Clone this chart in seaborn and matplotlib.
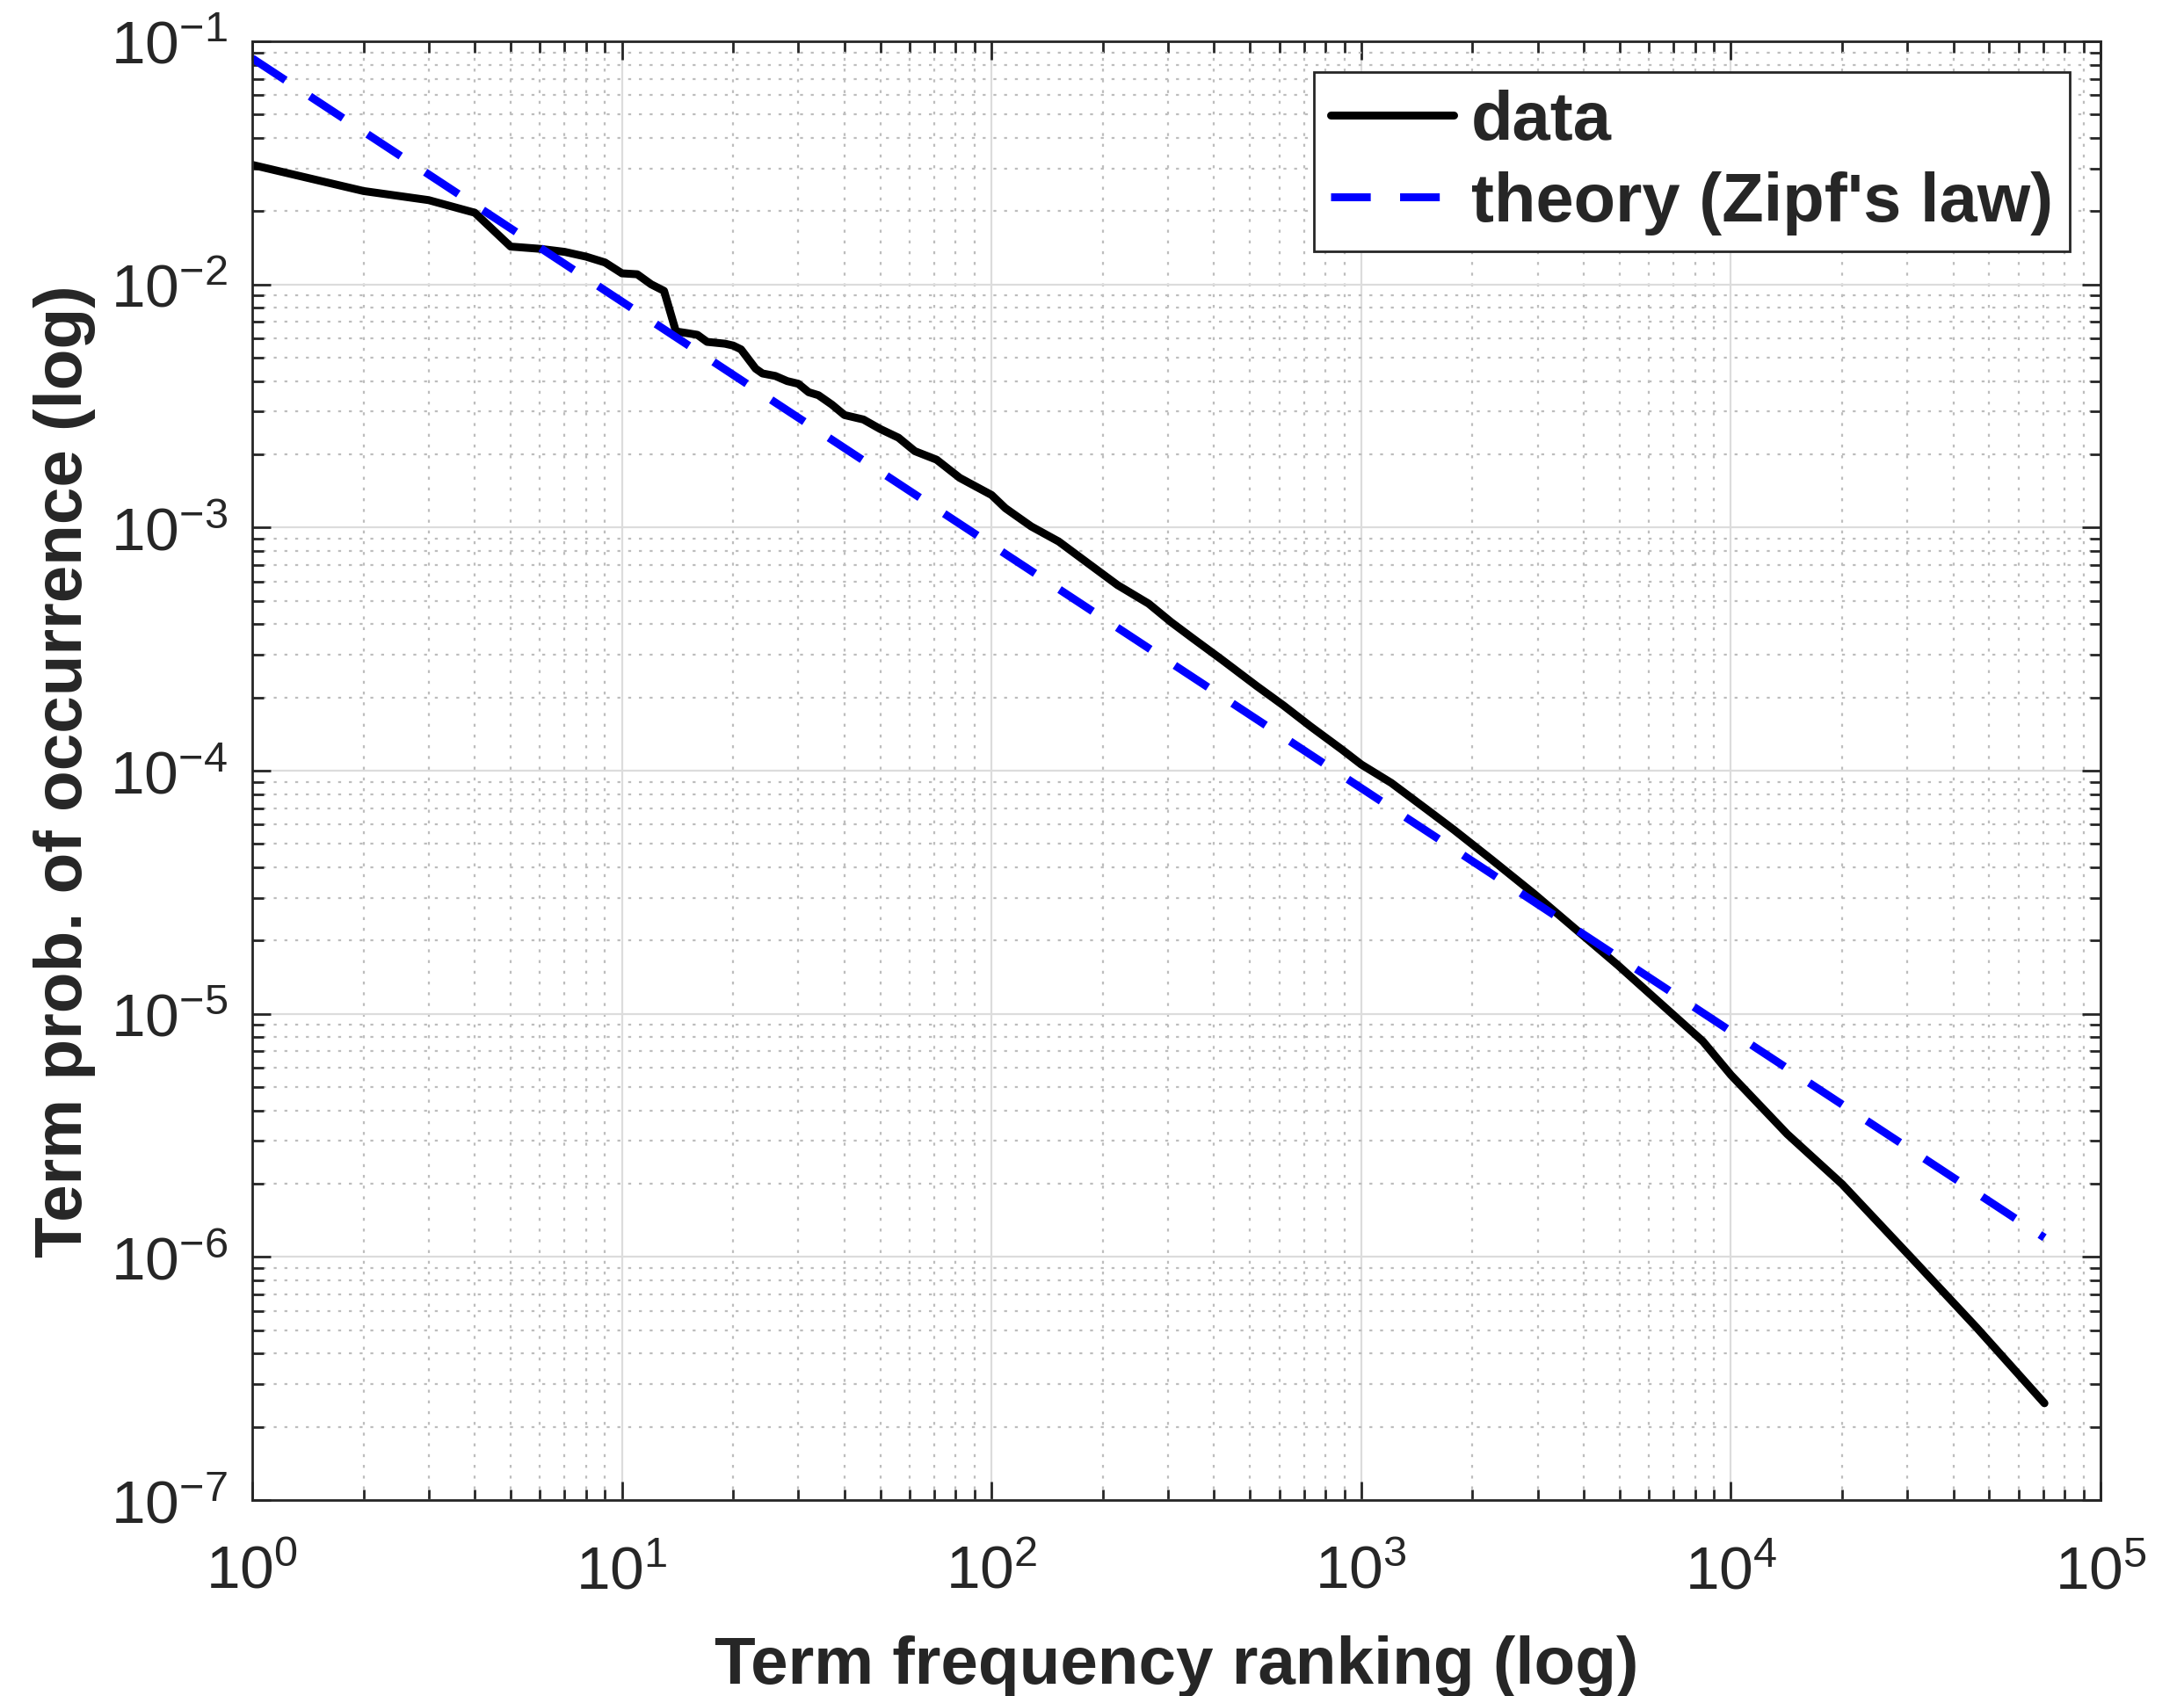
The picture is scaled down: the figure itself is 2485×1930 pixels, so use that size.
import numpy as np
import pandas as pd
import seaborn as sns
import matplotlib
matplotlib.use("Agg")
from matplotlib import pyplot as plt
from matplotlib.ticker import LogLocator, LogFormatterSciNotation, NullFormatter

# Term rank vs. probability
rank = [1, 2, 3, 4, 5, 6, 7, 8, 9, 10, 11, 12, 13, 14, 15, 16, 17, 19, 20, 21,
        23, 24, 26, 28, 30, 32, 34, 37, 40, 45, 50, 56, 62, 71, 82, 100, 109,
        128, 152, 180, 219, 266, 306, 352, 417, 521, 617, 729, 887, 1000, 1206,
        1509, 1783, 2255, 2930, 4955, 8400, 10000, 14200, 20000, 31200, 46300,
        70500]
prob = [0.031, 0.0242, 0.0222, 0.0197, 0.0143, 0.0140, 0.0136, 0.0130, 0.0123,
        0.0111, 0.0110, 0.0100, 0.0094, 0.0064, 0.0063, 0.0062, 0.0058, 0.0057,
        0.0056, 0.0054, 0.0045, 0.0043, 0.0042, 0.0040, 0.0039, 0.0036, 0.0035,
        0.0032, 0.0029, 0.00278, 0.00254, 0.00234, 0.00206, 0.0019, 0.0016,
        0.00136, 0.0012, 0.00101, 0.000875, 0.000723, 0.00058, 0.000486,
        0.000408, 0.000348, 0.000288, 0.000223, 0.000185, 0.000152, 0.000122,
        0.000106, 8.9e-5, 6.9e-5, 5.7e-5, 4.3e-5, 3.12e-5, 1.58e-5, 7.7e-6,
        5.6e-6, 3.2e-6, 1.99e-6, 9.7e-7, 5.1e-7, 2.5e-7]

# Zipf's law reference line (straight on log-log axes)
theory_rank = [1, 70500]
theory_prob = [0.085, 1.2e-6]

data_df = pd.DataFrame({"rank": rank, "prob": prob})
theory_df = pd.DataFrame({"rank": theory_rank, "prob": theory_prob})

sns.set_style("ticks")
plt.rcParams["font.family"] = ["Liberation Sans", "DejaVu Sans"]
plt.rcParams["mathtext.fontset"] = "custom"
plt.rcParams["mathtext.rm"] = "Liberation Sans"
plt.rcParams["mathtext.default"] = "regular"
plt.rcParams["axes.unicode_minus"] = False

fig = plt.figure(figsize=(24.85, 19.31), dpi=100)
ax = fig.add_axes([0.1155, 0.1155, 0.8463, 0.8597])

sns.lineplot(data=data_df, x="rank", y="prob", ax=ax, color="black",
             linewidth=6.5, label="data", sort=False)
sns.lineplot(data=theory_df, x="rank", y="prob", ax=ax, color="#0000ff",
             linewidth=6.5, label="theory (Zipf's law)", sort=False)
ax.lines[1].set_dashes([5.0, 3.7])

ax.set_xscale("log")
ax.set_yscale("log")
ax.set_xlim(1, 1e5)
ax.set_ylim(1e-7, 1e-1)

ax.xaxis.set_major_locator(LogLocator(base=10, numticks=10))
ax.yaxis.set_major_locator(LogLocator(base=10, numticks=10))
ax.xaxis.set_minor_locator(LogLocator(base=10, subs=np.arange(2, 10), numticks=50))
ax.yaxis.set_minor_locator(LogLocator(base=10, subs=np.arange(2, 10), numticks=50))
ax.xaxis.set_major_formatter(LogFormatterSciNotation())
ax.yaxis.set_major_formatter(LogFormatterSciNotation())
ax.xaxis.set_minor_formatter(NullFormatter())
ax.yaxis.set_minor_formatter(NullFormatter())

ax.grid(which="major", color="#dcdcdc", linestyle="-", linewidth=1.6)
ax.grid(which="minor", color="#bdbdbd", linestyle=(0, (1.5, 4)), linewidth=1.6)
ax.set_axisbelow(True)

ax.tick_params(which="both", direction="in", top=True, right=True,
               colors="#262626", labelcolor="#262626", width=2)
ax.tick_params(which="major", length=15, labelsize=50)
ax.tick_params(which="minor", length=9)
ax.tick_params(axis="x", which="major", pad=36)
ax.tick_params(axis="y", which="major", pad=20)
for s in ax.spines.values():
    s.set_color("#262626")
    s.set_linewidth(2)

ax.set_xlabel("Term frequency ranking (log)", fontsize=55, fontweight="bold",
              color="#262626", labelpad=28)
ax.set_ylabel("Term prob. of occurrence (log)", fontsize=55, fontweight="bold",
              color="#262626", labelpad=12)

leg = ax.legend(loc="upper right", fontsize=56, frameon=True, fancybox=False,
                handlelength=1.8, handletextpad=0.25, borderaxespad=0.45,
                labelspacing=0.25, borderpad=0.25)
leg.get_frame().set_edgecolor("#262626")
leg.get_frame().set_linewidth(2)
leg.get_frame().set_alpha(1)
for t in leg.get_texts():
    t.set_fontweight("bold")

plt.savefig("out.png", dpi=100)
plt.close()
